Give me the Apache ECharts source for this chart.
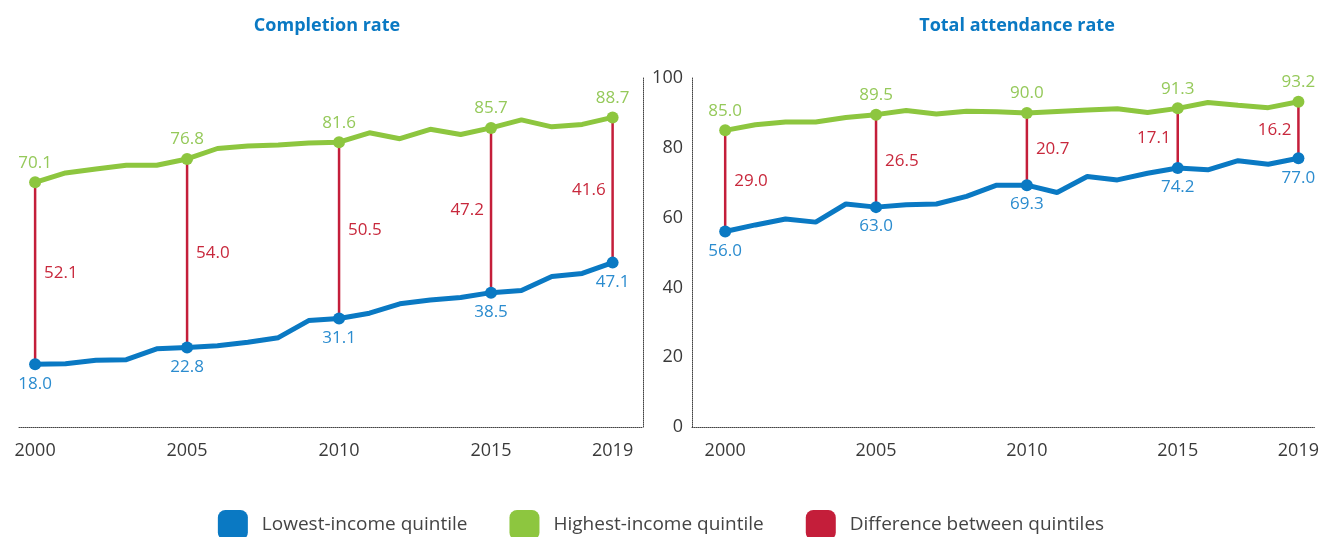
<!DOCTYPE html>
<html>
<head>
<meta charset="utf-8">
<script src="https://cdn.jsdelivr.net/npm/echarts@6/dist/echarts.min.js"></script>
<style>
  html, body { margin: 0; padding: 0; background: #fff; }
  #chart { width: 1322px; height: 537px; }
</style>
</head>
<body>
<div id="chart"></div>
<script>
// years and values
var years = [2000, 2001, 2002, 2003, 2004, 2005, 2006, 2007, 2008, 2009,
  2010, 2011, 2012, 2013, 2014, 2015, 2016, 2017, 2018, 2019]
var keyYears = [2000, 2005, 2010, 2015, 2019] // years with a dot and a label

// Completion rate
var completionLow = [18.0, 18.1, 19.1, 19.3, 22.4, 22.8, 23.3, 24.3, 25.6, 30.5,
  31.1, 32.6, 35.3, 36.4, 37.1, 38.5, 39.1, 43.1, 44.0, 47.1]
var completionHigh = [70.1, 72.8, 73.9, 75.0, 75.0, 76.8, 79.8, 80.5, 80.8, 81.4,
  81.6, 84.3, 82.6, 85.3, 83.8, 85.7, 88.0, 86.0, 86.7, 88.7]
var completionGap = [52.1, 54.0, 50.5, 47.2, 41.6]

// Total attendance rate
var attendanceLow = [56.0, 57.9, 59.6, 58.7, 63.9, 63.0, 63.7, 63.9, 66.1, 69.3,
  69.3, 67.2, 71.8, 70.8, 72.7, 74.2, 73.7, 76.3, 75.3, 77.0]
var attendanceHigh = [85.0, 86.6, 87.4, 87.4, 88.7, 89.5, 90.7, 89.7, 90.5, 90.3,
  90.0, 90.4, 90.8, 91.2, 90.1, 91.3, 93.0, 92.2, 91.5, 93.2]
var attendanceGap = [29.0, 26.5, 20.7, 17.1, 16.2]

var yTicks = [0, 20, 40, 60, 80, 100]

var BLUE = '#0a79c3'
var GREEN = '#8dc63f'
var RED = '#c41e3a'
var FONT = "'Open Sans', sans-serif"

var myChart = echarts.init(document.getElementById('chart'))

// line data, dot + label only on the key years
function lineData (vals, labelPos) {
  return years.map(function (y, i) {
    var key = keyYears.indexOf(y) > -1
    return {
      value: [y, vals[i]],
      symbolSize: key ? 12 : 0,
      label: { show: key, position: labelPos }
    }
  })
}

// vertical red bars between the two quintiles
function gapData (low, high, gap) {
  return keyYears.map(function (y, k) {
    var i = years.indexOf(y)
    return [y, low[i], high[i], gap[k]]
  })
}

function renderGap (params, api) {
  var p1 = api.coord([api.value(0), api.value(1)])
  var p2 = api.coord([api.value(0), api.value(2)])
  var left = api.value(0) >= 2015 // last two labels sit on the left
  var midY = (p1[1] + p2[1]) / 2
  return {
    type: 'group',
    children: [{
      type: 'line',
      shape: { x1: p1[0], y1: p1[1], x2: p2[0], y2: p2[1] },
      style: { stroke: RED, lineWidth: 2.5 }
    }, {
      type: 'text',
      style: {
        text: api.value(3).toFixed(1),
        x: left ? p1[0] - 7 : p1[0] + 9,
        y: midY,
        fill: '#c8283c',
        font: '17px ' + FONT,
        align: left ? 'right' : 'left',
        verticalAlign: 'middle'
      }
    }]
  }
}

function buildSeries (idx, low, high, gap) {
  return [{
    name: 'Difference between quintiles',
    type: 'custom',
    xAxisIndex: idx,
    yAxisIndex: idx,
    itemStyle: { color: RED },
    renderItem: renderGap,
    data: gapData(low, high, gap),
    z: 1
  }, {
    name: 'Lowest-income quintile',
    type: 'line',
    xAxisIndex: idx,
    yAxisIndex: idx,
    symbol: 'circle',
    color: BLUE,
    lineStyle: { width: 5, color: BLUE },
    itemStyle: { color: BLUE },
    label: { color: '#2b8ccf', fontSize: 17, fontFamily: FONT, distance: 5, formatter: function (p) { return p.value[1].toFixed(1) } },
    data: lineData(low, 'bottom'),
    z: 3
  }, {
    name: 'Highest-income quintile',
    type: 'line',
    xAxisIndex: idx,
    yAxisIndex: idx,
    symbol: 'circle',
    color: GREEN,
    lineStyle: { width: 5, color: GREEN },
    itemStyle: { color: GREEN },
    label: { color: '#95c95a', fontSize: 17, fontFamily: FONT, distance: 5, formatter: function (p) { return p.value[1].toFixed(1) } },
    data: lineData(high, 'top'),
    z: 3
  }]
}

var dotted = { show: true, lineStyle: { color: '#444', width: 1, type: 'dotted' } }

function xAxisFor (idx, min, max) {
  return {
    type: 'value',
    gridIndex: idx,
    min: min,
    max: max,
    axisLine: dotted,
    axisTick: { show: false },
    splitLine: { show: false },
    axisLabel: {
      customValues: keyYears,
      formatter: function (v) { return String(v) }, // no thousands separator
      color: '#3a3a3a',
      fontSize: 18,
      fontFamily: FONT,
      margin: 15
    }
  }
}

var option = {
  backgroundColor: '#fff',
  animation: false,
  title: [{
    text: 'Completion rate',
    left: 322,
    top: 12,
    textAlign: 'center',
    textStyle: { color: '#0a79c3', fontSize: 18, fontWeight: 'bold', fontFamily: FONT }
  }, {
    text: 'Total attendance rate',
    left: 1012,
    top: 12,
    textAlign: 'center',
    textStyle: { color: '#0a79c3', fontSize: 18, fontWeight: 'bold', fontFamily: FONT }
  }],
  legend: {
    data: ['Lowest-income quintile', 'Highest-income quintile', 'Difference between quintiles'],
    top: 505,
    left: 'center',
    itemWidth: 30,
    itemHeight: 30,
    itemGap: 42,
    icon: 'roundRect',
    textStyle: { color: '#444', fontSize: 19, fontFamily: FONT, padding: [0, 0, 0, 9] }
  },
  grid: [
    { left: 19, right: 679, top: 78, bottom: 110 },
    { left: 692, right: 6, top: 78, bottom: 110 }
  ],
  xAxis: [
    xAxisFor(0, 1999.47, 2020),
    xAxisFor(1, 1998.9, 2019.53)
  ],
  yAxis: [{
    type: 'value',
    gridIndex: 0,
    position: 'right',
    min: 0,
    max: 100,
    interval: 20,
    axisLine: dotted,
    axisTick: { show: false },
    axisLabel: { show: false },
    splitLine: { show: false }
  }, {
    type: 'value',
    gridIndex: 1,
    position: 'left',
    min: 0,
    max: 100,
    interval: 20,
    axisLine: dotted,
    axisTick: { show: false },
    splitLine: { show: false },
    axisLabel: {
      customValues: yTicks,
      color: '#3a3a3a',
      fontSize: 18,
      fontFamily: FONT,
      margin: 9
    }
  }],
  series: buildSeries(0, completionLow, completionHigh, completionGap)
    .concat(buildSeries(1, attendanceLow, attendanceHigh, attendanceGap))
}

myChart.setOption(option)
</script>
</body>
</html>
